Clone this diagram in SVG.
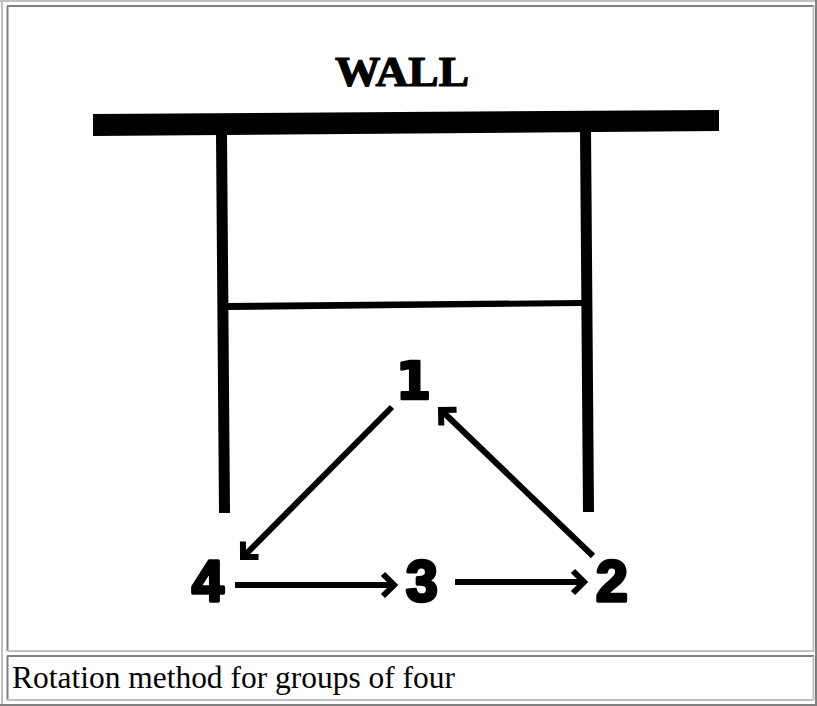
<svg xmlns="http://www.w3.org/2000/svg" width="817" height="706" viewBox="0 0 817 706">
  <style>
    .light { stroke: #c0c0c0; stroke-width: 2; fill: none; }
    .dark { stroke: #808080; stroke-width: 2; fill: none; }
    .ink { fill: #000; }
    .conn { stroke: #000; stroke-width: 6; fill: none; marker-end: url(#ah); }
    .digit { font-family: "Liberation Sans", Arial, sans-serif; font-weight: bold; font-size: 57px; fill: #000; stroke: #000; stroke-width: 3.5; stroke-linejoin: round; }
    .wall { font-family: "Liberation Serif", "Times New Roman", serif; font-weight: bold; font-size: 43px; fill: #000; stroke: #000; stroke-width: 1.2; }
    .caption { font-family: "Liberation Serif", "Times New Roman", serif; font-size: 31px; fill: #000; }
  </style>
  <defs>
    <marker id="ah" viewBox="-16 -16 22 32" markerWidth="22" markerHeight="32" refX="0" refY="0" orient="auto" markerUnits="userSpaceOnUse">
      <path d="M-11,-11 L0,0 L-11,11" fill="none" stroke="#000" stroke-width="6" stroke-linejoin="miter"/>
    </marker>
  </defs>
  <rect width="817" height="706" fill="#fff"/>

  <!-- table frame -->
  <g id="frame">
    <line class="light" x1="0" y1="1" x2="817" y2="1"/>
    <line class="light" x1="2" y1="0" x2="2" y2="706"/>
    <line class="dark" x1="0" y1="705" x2="817" y2="705"/>
    <line class="dark" x1="816" y1="0" x2="816" y2="706"/>
    <!-- image cell -->
    <line class="dark" x1="7" y1="6" x2="814" y2="6"/>
    <line class="dark" x1="7.5" y1="6" x2="7.5" y2="651"/>
    <line class="light" x1="813.5" y1="6" x2="813.5" y2="651"/>
    <line class="light" x1="7" y1="651" x2="814" y2="651"/>
    <!-- caption cell -->
    <line class="dark" x1="7" y1="656" x2="814" y2="656"/>
    <line class="dark" x1="7.5" y1="656" x2="7.5" y2="700"/>
    <line class="light" x1="813.5" y1="656" x2="813.5" y2="700"/>
    <line class="light" x1="7" y1="700" x2="814" y2="700"/>
  </g>

  <!-- wall and frame structure -->
  <g id="wall">
    <text class="wall" x="335" y="86" textLength="134" lengthAdjust="spacingAndGlyphs">WALL</text>
    <polygon class="ink" points="93,114 719,110 719,131 93,136"/>
  </g>
  <g id="left-post">
    <polygon class="ink" points="216,134 227,134 230,513 219,513"/>
  </g>
  <g id="right-post">
    <polygon class="ink" points="580,130 591,130 594,512 583,512"/>
  </g>
  <g id="crossbar">
    <polygon class="ink" points="227,303 582,300 582,306 227,310"/>
  </g>

  <!-- nodes -->
  <g id="n1">
    <text x="413.5" y="399" text-anchor="middle" font-family="'DejaVu Sans', sans-serif" font-weight="bold" font-size="51" fill="#000" stroke="#000" stroke-width="2.5" stroke-linejoin="round">1</text>
  </g>
  <g id="n2">
    <text class="digit" x="596" y="601">2</text>
  </g>
  <g id="n3">
    <text class="digit" x="406" y="601">3</text>
  </g>
  <g id="n4">
    <text class="digit" x="192" y="601">4</text>
  </g>

  <!-- connectors -->
  <g id="connectors">
    <line class="conn" x1="392" y1="407" x2="243" y2="557"/>
    <line class="conn" x1="593" y1="556" x2="441" y2="410"/>
    <line class="conn" x1="235" y1="585" x2="394" y2="585"/>
    <line class="conn" x1="455" y1="582" x2="584" y2="582"/>
  </g>

  <!-- caption -->
  <g id="caption">
    <text class="caption" x="12" y="688" textLength="443" lengthAdjust="spacingAndGlyphs">Rotation method for groups of four</text>
  </g>
</svg>
